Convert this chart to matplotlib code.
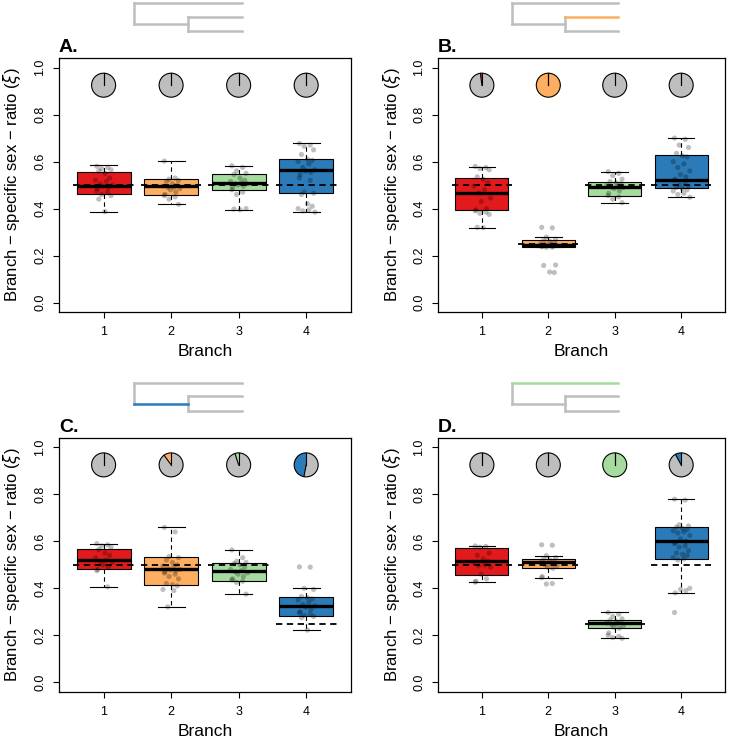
import numpy as np
import matplotlib
matplotlib.use("Agg")
import matplotlib.pyplot as plt
from matplotlib.patches import Wedge, Circle
from matplotlib.transforms import Affine2D, ScaledTranslation

plt.rcParams['font.family'] = ['Liberation Sans', 'DejaVu Sans']

# Data
branches = [1, 2, 3, 4]
box_colors = ['#E31A1C', '#FDAE61', '#A6DBA0', '#2B7BB9']
panel_labels = ['A.', 'B.', 'C.', 'D.']

# box stats per branch: (lower whisker, q1, median, q3, upper whisker)
stats_A = [(0.387, 0.462, 0.497, 0.555, 0.584),
           (0.418, 0.459, 0.494, 0.527, 0.602),
           (0.395, 0.479, 0.508, 0.548, 0.582),
           (0.384, 0.466, 0.565, 0.609, 0.677)]
stats_B = [(0.319, 0.392, 0.467, 0.530, 0.579),
           (0.236, 0.238, 0.246, 0.265, 0.278),
           (0.425, 0.453, 0.490, 0.514, 0.557),
           (0.448, 0.487, 0.523, 0.626, 0.700)]
stats_C = [(0.406, 0.482, 0.519, 0.569, 0.590),
           (0.321, 0.413, 0.482, 0.532, 0.659),
           (0.375, 0.430, 0.474, 0.508, 0.563),
           (0.222, 0.283, 0.324, 0.363, 0.400)]
stats_D = [(0.426, 0.455, 0.516, 0.570, 0.580),
           (0.444, 0.488, 0.513, 0.523, 0.539),
           (0.187, 0.229, 0.252, 0.267, 0.297),
           (0.379, 0.526, 0.601, 0.660, 0.779)]

# per-replicate estimates (jittered grey dots)
points_A = [
    [0.58, 0.575, 0.57, 0.565, 0.56, 0.55, 0.53, 0.52, 0.515, 0.505, 0.50, 0.495, 0.49, 0.485, 0.475, 0.47, 0.46, 0.455, 0.44, 0.387],
    [0.602, 0.53, 0.525, 0.52, 0.515, 0.505, 0.50, 0.495, 0.49, 0.49, 0.485, 0.48, 0.47, 0.46, 0.455, 0.45, 0.44, 0.418],
    [0.582, 0.575, 0.56, 0.55, 0.545, 0.53, 0.52, 0.515, 0.51, 0.505, 0.505, 0.50, 0.495, 0.49, 0.48, 0.47, 0.46, 0.40, 0.398, 0.395],
    [0.677, 0.67, 0.665, 0.65, 0.63, 0.61, 0.605, 0.60, 0.59, 0.575, 0.565, 0.56, 0.555, 0.545, 0.53, 0.52, 0.47, 0.465, 0.46, 0.42, 0.41, 0.40, 0.395, 0.39, 0.385],
]
points_B = [
    [0.579, 0.575, 0.57, 0.565, 0.535, 0.525, 0.51, 0.495, 0.48, 0.467, 0.445, 0.43, 0.40, 0.395, 0.39, 0.385, 0.38, 0.375, 0.32, 0.319],
    [0.32, 0.318, 0.278, 0.27, 0.265, 0.26, 0.255, 0.25, 0.248, 0.246, 0.245, 0.243, 0.24, 0.24, 0.238, 0.236, 0.235, 0.16, 0.158, 0.13, 0.128],
    [0.557, 0.55, 0.54, 0.525, 0.515, 0.51, 0.505, 0.50, 0.495, 0.492, 0.49, 0.485, 0.475, 0.465, 0.455, 0.45, 0.44, 0.425],
    [0.70, 0.695, 0.67, 0.66, 0.635, 0.625, 0.62, 0.60, 0.59, 0.575, 0.56, 0.545, 0.535, 0.525, 0.52, 0.51, 0.50, 0.495, 0.49, 0.485, 0.48, 0.475, 0.465, 0.46, 0.448],
]
points_C = [
    [0.59, 0.585, 0.58, 0.575, 0.565, 0.55, 0.54, 0.53, 0.52, 0.515, 0.51, 0.50, 0.49, 0.48, 0.475, 0.406],
    [0.659, 0.64, 0.535, 0.53, 0.52, 0.51, 0.50, 0.495, 0.49, 0.485, 0.48, 0.478, 0.475, 0.47, 0.465, 0.46, 0.45, 0.44, 0.42, 0.415, 0.41, 0.395, 0.39, 0.321],
    [0.563, 0.53, 0.515, 0.51, 0.505, 0.50, 0.49, 0.48, 0.475, 0.47, 0.465, 0.46, 0.45, 0.44, 0.435, 0.43, 0.425, 0.375],
    [0.491, 0.49, 0.40, 0.395, 0.365, 0.36, 0.355, 0.35, 0.34, 0.33, 0.325, 0.32, 0.31, 0.30, 0.295, 0.29, 0.285, 0.28, 0.275, 0.222],
]
points_D = [
    [0.58, 0.578, 0.575, 0.55, 0.54, 0.525, 0.515, 0.51, 0.50, 0.495, 0.49, 0.46, 0.44, 0.43, 0.426],
    [0.585, 0.583, 0.539, 0.53, 0.525, 0.52, 0.515, 0.51, 0.505, 0.50, 0.495, 0.49, 0.485, 0.45, 0.445, 0.42, 0.418],
    [0.297, 0.29, 0.28, 0.27, 0.265, 0.26, 0.255, 0.252, 0.25, 0.245, 0.24, 0.235, 0.23, 0.21, 0.20, 0.195, 0.19, 0.187],
    [0.779, 0.775, 0.67, 0.665, 0.66, 0.655, 0.65, 0.645, 0.64, 0.635, 0.625, 0.61, 0.60, 0.595, 0.59, 0.58, 0.575, 0.56, 0.55, 0.545, 0.54, 0.53, 0.525, 0.52, 0.40, 0.395, 0.39, 0.38, 0.297],
]

# expected ratio (dashed line) per branch
expected_A = [0.5, 0.5, 0.5, 0.5]
expected_B = [0.5, 0.25, 0.5, 0.5]
expected_C = [0.5, 0.5, 0.5, 0.25]
expected_D = [0.5, 0.5, 0.25, 0.5]

# fraction of the pie in branch colour
pie_A = [0.0, 0.0, 0.0, 0.0]
pie_B = [0.02, 1.0, 0.0, 0.0]
pie_C = [0.0, 0.10, 0.05, 0.47]
pie_D = [0.0, 0.0, 1.0, 0.08]

# which branch is highlighted on the little tree
highlight = [None, 2, 4, 3]

all_stats = [stats_A, stats_B, stats_C, stats_D]
all_points = [points_A, points_B, points_C, points_D]
all_expected = [expected_A, expected_B, expected_C, expected_D]
all_pies = [pie_A, pie_B, pie_C, pie_D]

jit = [-0.10, 0.06, -0.03, 0.11, -0.07, 0.02, 0.09, -0.12, 0.04, -0.05, 0.13, -0.01, 0.07, -0.09]

fig = plt.figure(figsize=(7.33, 7.40), dpi=100)
positions = [[0.0805, 0.5784, 0.398, 0.343],
             [0.5976, 0.5784, 0.3915, 0.343],
             [0.0805, 0.0653, 0.398, 0.343],
             [0.5976, 0.0653, 0.3915, 0.343]]

grey = '#BEBEBE'

for k in range(4):
    ax = fig.add_axes(positions[k])
    stats = [dict(whislo=s[0], q1=s[1], med=s[2], q3=s[3], whishi=s[4], fliers=[])
             for s in all_stats[k]]
    bp = ax.bxp(stats, positions=branches, widths=0.8, patch_artist=True,
                showfliers=False,
                boxprops=dict(linewidth=0.8, edgecolor='black'),
                whiskerprops=dict(linewidth=0.8, linestyle=(0, (4, 3))),
                capprops=dict(linewidth=0.8),
                medianprops=dict(linewidth=2.4, color='black', solid_capstyle='butt'),
                zorder=2)
    for patch, c in zip(bp['boxes'], box_colors):
        patch.set_facecolor(c)
    for cap in bp['caps']:
        xd = cap.get_xdata()
        m = np.mean(xd)
        cap.set_xdata([m - 0.2, m + 0.2])

    # expected ratio
    for b, e in zip(branches, all_expected[k]):
        ax.plot([b - 0.45, b + 0.45], [e, e], color='black', lw=1.3,
                linestyle=(0, (3.5, 2.5)), zorder=3)

    # jittered replicate points
    for b, pts in zip(branches, all_points[k]):
        xs = [b + jit[i % len(jit)] for i in range(len(pts))]
        ax.scatter(xs, pts, s=14, color='black', alpha=0.25, edgecolors='none', zorder=4)

    # pies
    for b, f, c in zip(branches, all_pies[k], box_colors):
        tr = Affine2D().scale(12) + ScaledTranslation(b, 0.925, ax.transData)
        ax.add_patch(Circle((0, 0), 1, facecolor=grey, edgecolor='none', transform=tr, zorder=5))
        if f > 0:
            ax.add_patch(Wedge((0, 0), 1, 90, 90 + 360 * f, facecolor=c, edgecolor='none',
                               transform=tr, zorder=5))
        ax.add_patch(Circle((0, 0), 1, facecolor='none', edgecolor='black', lw=0.8,
                            transform=tr, zorder=6))
        for ang in [90, 90 + 360 * f]:
            a = np.deg2rad(ang)
            ax.plot([0, np.cos(a)], [0, np.sin(a)], color='black', lw=0.8,
                    transform=tr, zorder=6)

    ax.set_xlim(0.34, 4.66)
    ax.set_ylim(-0.04, 1.04)
    ax.set_xticks(branches)
    ax.set_xticklabels([str(b) for b in branches])
    ax.set_yticks([0.0, 0.2, 0.4, 0.6, 0.8, 1.0])
    ax.set_yticklabels(['0.0', '0.2', '0.4', '0.6', '0.8', '1.0'], rotation=90, va='center')
    ax.tick_params(axis='both', length=4, width=0.8, labelsize=9, color='black')
    ax.tick_params(axis='x', pad=6)
    ax.tick_params(axis='y', pad=5)
    for sp in ax.spines.values():
        sp.set_linewidth(0.9)

    ax.set_xlabel('Branch', fontsize=12.5, va='center')
    ax.xaxis.set_label_coords(0.5, -0.157)
    ax.set_ylabel('Branch \u2212 specific sex \u2212 ratio ($\\xi$)', fontsize=12)
    ax.yaxis.set_label_coords(-0.122, 0.5)

    ax.text(0.0, 1.008, panel_labels[k], transform=ax.transAxes, ha='left', va='bottom',
            fontsize=14, fontweight='bold')

    # small tree cartoon above each panel
    xr, xi, xt = 0.256, 0.442, 0.627
    y3, y2, y1, yi = 1.217, 1.163, 1.107, 1.135
    segs = {3: ([xr, xt], [y3, y3]),
            2: ([xi, xt], [y2, y2]),
            1: ([xi, xt], [y1, y1]),
            4: ([xr, xi], [yi, yi])}
    ax.plot([xr, xr], [y3, yi], color=grey, lw=1.8, transform=ax.transAxes, clip_on=False)
    ax.plot([xi, xi], [y2, y1], color=grey, lw=1.8, transform=ax.transAxes, clip_on=False)
    for br, (sx, sy) in segs.items():
        col = box_colors[br - 1] if highlight[k] == br else grey
        ax.plot(sx, sy, color=col, lw=1.8, transform=ax.transAxes, clip_on=False,
                zorder=3 if highlight[k] == br else 2)

fig.savefig('out.png', dpi=100)
